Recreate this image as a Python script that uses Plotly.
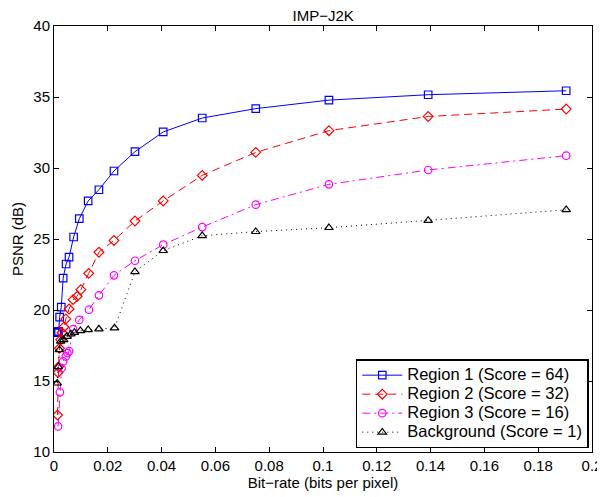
import plotly.graph_objects as go

# Region 1 (Score = 64)
r1_x = [0.0010, 0.0012, 0.0014, 0.0017, 0.0021, 0.0027, 0.0034, 0.0045, 0.0056, 0.0073,
        0.0094, 0.0127, 0.0167, 0.0223, 0.0301, 0.0406, 0.0551, 0.0750, 0.1022, 0.1391, 0.1904]
r1_y = [18.40, 18.40, 18.45, 18.50, 19.50, 20.20, 22.25, 23.24, 23.73, 25.14,
        26.43, 27.68, 28.47, 29.79, 31.15, 32.54, 33.52, 34.18, 34.78, 35.16, 35.44]

# Region 2 (Score = 32)
r2_x = [0.0013, 0.0015, 0.0017, 0.0020, 0.0025, 0.0030, 0.0037, 0.0044, 0.0056, 0.0071,
        0.0086, 0.0100, 0.0129, 0.0167, 0.0223, 0.0301, 0.0406, 0.0551, 0.0750, 0.1022,
        0.1391, 0.1904]
r2_y = [12.60, 15.60, 16.00, 17.30, 17.90, 18.40, 18.80, 19.37, 20.07, 20.73,
        20.96, 21.43, 22.58, 24.07, 24.90, 26.27, 27.68, 29.48, 31.10, 32.63,
        33.63, 34.15]

# Region 3 (Score = 16)
r3_x = [0.0015, 0.0022, 0.0028, 0.0034, 0.0044, 0.0050, 0.0056, 0.0071, 0.0094, 0.0130,
        0.0167, 0.0223, 0.0301, 0.0406, 0.0551, 0.0750, 0.1022, 0.1391, 0.1904]
r3_y = [11.80, 14.20, 15.90, 16.38, 16.73, 16.97, 17.10, 18.66, 19.30, 20.02,
        21.03, 22.44, 23.47, 24.60, 25.84, 27.42, 28.85, 29.86, 30.87]

# Background (Score = 1)
bg_x = [0.0012, 0.0016, 0.0020, 0.0025, 0.0036, 0.0048, 0.0063, 0.0076, 0.0098, 0.0127,
        0.0167, 0.0225, 0.0301, 0.0406, 0.0551, 0.0750, 0.1022, 0.1391, 0.1904]
bg_y = [14.85, 16.00, 17.20, 17.80, 17.90, 18.14, 18.31, 18.42, 18.54, 18.61,
        18.66, 18.73, 22.70, 24.18, 25.23, 25.52, 25.80, 26.31, 27.06]

names = ["Region 1 (Score = 64)", "Region 2 (Score = 32)",
         "Region 3 (Score = 16)", "Background (Score = 1)"]

x_ticks = [0, 0.02, 0.04, 0.06, 0.08, 0.1, 0.12, 0.14, 0.16, 0.18, 0.2]
x_tick_text = ["0", "0.02", "0.04", "0.06", "0.08", "0.1", "0.12", "0.14", "0.16", "0.18", "0.2"]
y_ticks = [10, 15, 20, 25, 30, 35, 40]

FONT = "Liberation Sans"

fig = go.Figure()
series = [
    (r1_x, r1_y, names[0], "#0000ff", "solid", "square-open"),
    (r2_x, r2_y, names[1], "#ff0000", "8px,5px", "diamond-open"),
    (r3_x, r3_y, names[2], "#ff00ff", "8px,4px,2px,4px", "circle-open"),
    (bg_x, bg_y, names[3], "#000000", "1px,4px", "triangle-up-open"),
]
for xs, ys, nm, col, dash, sym in series:
    fig.add_trace(go.Scatter(
        x=xs, y=ys, name='<span style="font-size:16.5px">' + nm + '</span>',
        mode="lines+markers",
        line=dict(color=col, width=1, dash=dash),
        marker=dict(symbol=sym, size=7.5, color=col, line=dict(width=1.2, color=col)),
    ))

axis_common = dict(
    showgrid=False, zeroline=False, showline=True, linecolor="black", linewidth=1,
    mirror="allticks", ticks="inside", ticklen=5, tickcolor="black",
    automargin=False,
    tickfont=dict(family=FONT, size=15, color="black"),
)

# The page body adds an 8px offset, so the figure is sized/margined to compensate.
fig.update_layout(
    width=597, height=489,
    margin=dict(l=46, r=13, t=18, b=45, autoexpand=False),
    paper_bgcolor="white", plot_bgcolor="white",
    font=dict(family=FONT, size=15, color="black"),
    title=dict(text="IMP\u2212J2K", x=0.528, xanchor="center", y=0.994, yanchor="top",
               font=dict(family=FONT, size=15, color="black")),
    xaxis=dict(range=[0, 0.2], tickvals=x_ticks, ticktext=x_tick_text,
               title=dict(text="Bit\u2212rate (bits per pixel)", standoff=2,
                          font=dict(family=FONT, size=15, color="black")),
               **axis_common),
    yaxis=dict(range=[10, 40], tickvals=y_ticks,
               title=dict(text="PSNR (dB)", standoff=6,
                          font=dict(family=FONT, size=15, color="black")),
               **axis_common),
    legend=dict(x=0.994, y=0.009, xanchor="right", yanchor="bottom",
                bgcolor="white", bordercolor="black", borderwidth=1.5,
                font=dict(family=FONT, size=12, color="black"),
                tracegroupgap=0, itemwidth=40),
    showlegend=True,
)

fig.write_html("out.html")
